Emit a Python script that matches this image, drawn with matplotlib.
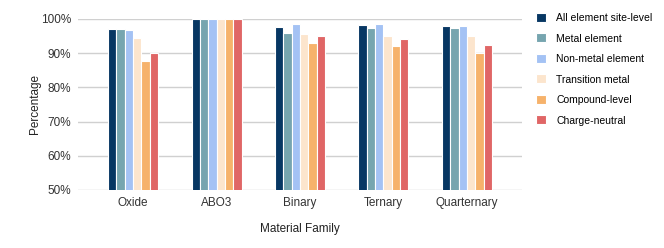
import matplotlib.pyplot as plt
import numpy as np
from matplotlib.ticker import FuncFormatter

plt.rcParams['font.family'] = ['Liberation Sans', 'DejaVu Sans']

families = ['Oxide', 'ABO3', 'Binary', 'Ternary', 'Quarternary']
series = ['All element site-level', 'Metal element', 'Non-metal element',
          'Transition metal', 'Compound-level', 'Charge-neutral']
all_site = [97.0, 100.0, 97.7, 98.2, 98.0]
metal = [97.0, 100.0, 96.0, 97.4, 97.3]
non_metal = [96.8, 100.0, 98.4, 98.4, 98.0]
transition = [94.4, 100.0, 95.5, 95.0, 95.0]
compound = [87.6, 100.0, 92.9, 92.2, 90.2]
charge = [90.2, 100.0, 95.0, 94.2, 92.4]
colors = ['#073763', '#76a5af', '#a4c2f4', '#fce5cd', '#f6b26b', '#e06666']

values = [all_site, metal, non_metal, transition, compound, charge]

fig = plt.figure(figsize=(6.64, 2.48), dpi=100)
ax = fig.add_axes([78 / 664, 1 - 190 / 248, 444 / 664, 171 / 248])

x = np.arange(len(families))
w = 0.1
for i, (name, vals) in enumerate(zip(series, values)):
    ax.bar(x + (i - 2.5) * w, vals, width=w, color=colors[i], label=name,
           edgecolor='white', linewidth=0.8, zorder=3)

ax.set_ylim(50, 100)
ax.set_xlim(-0.66, 4.66)
ax.set_yticks(range(50, 101, 10))
ax.yaxis.set_major_formatter(FuncFormatter(lambda v, p: '%d%%' % v))
ax.set_xticks(x)
ax.set_xticklabels(families)
ax.grid(axis='y', color='#d0d0d0', linewidth=1, zorder=0)
for s in ax.spines.values():
    s.set_visible(False)
ax.tick_params(length=0, labelsize=8.5, colors='#333333', pad=5)
ax.set_xlabel('Material Family', fontsize=8.5, color='#222222', labelpad=10)
ax.set_ylabel('Percentage', fontsize=8.5, color='#222222', labelpad=0)

ax.legend(loc='upper left', bbox_to_anchor=(1.01, 1.09), frameon=False,
          fontsize=7.5, handlelength=0.95, handleheight=0.95, labelspacing=1.0,
          handletextpad=1.0)

fig.savefig('out.png', dpi=100)
